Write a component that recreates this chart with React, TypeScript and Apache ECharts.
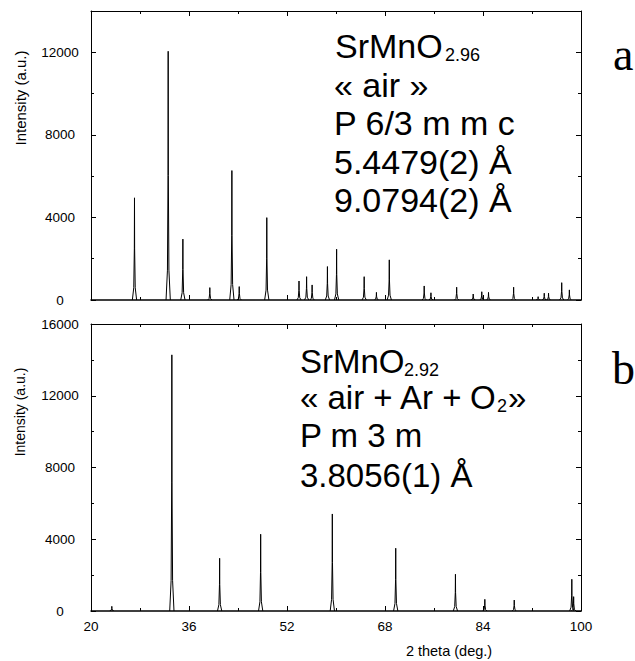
import React, { useEffect, useRef } from "react";
import * as echarts from "echarts";

// Panel a: SrMnO2.96 "air" — peak positions (2θ, deg) and peak intensities (a.u.)
const topTwoTheta = [27.1, 32.6, 35.0, 39.4, 43.0, 44.2, 48.7, 53.96, 55.2, 56.1, 58.6, 60.1, 64.6, 66.6, 68.7, 74.4, 75.5, 79.7, 82.4, 83.8, 84.9, 89.0, 93.0, 94.0, 94.7, 96.85, 98.1];
const topIntensity = [4950, 12050, 2950, 600, 6270, 650, 3990, 920, 1130, 730, 1620, 2460, 1130, 370, 1945, 680, 350, 620, 290, 400, 370, 620, 160, 330, 330, 840, 490];

// Panel b: SrMnO2.92 "air + Ar + O2"
const bottomTwoTheta = [23.4, 33.2, 41.0, 47.7, 59.4, 69.75, 79.5, 84.3, 89.1, 98.5, 98.8];
const bottomIntensity = [260, 14280, 2940, 4280, 5410, 3500, 2050, 650, 610, 1770, 800];

const xTicks = [20, 36, 52, 68, 84, 100];
const topYTicks = [0, 4000, 8000, 12000];
const bottomYTicks = [0, 4000, 8000, 12000, 16000];

const topLines = ["« air »", "P 6/3 m m c", "5.4479(2) Å", "9.0794(2) Å"];
const bottomLines = ["P m 3 m", "3.8056(1) Å"];

const SANS = "'Liberation Sans', Arial, Helvetica, sans-serif";
const SERIF = "'Liberation Serif', 'Times New Roman', serif";

function central(baseline: number, fs: number) {
  return baseline - 0.3465 * fs;
}

export default function App() {
  const ref = useRef<HTMLDivElement>(null);
  useEffect(() => {
    if (!ref.current) return;
    const chart = echarts.init(ref.current, null, { renderer: "svg" });

    const L = 91, W = 490;
    const grids = [
      { left: L, top: 11, width: W, height: 289 },
      { left: L, top: 324, width: W, height: 287 },
    ];

    const xAx = (gi: number, pos: string, labels: boolean) => ({
      type: "value",
      gridIndex: gi,
      position: pos,
      min: xTicks[0],
      max: xTicks[xTicks.length - 1],
      interval: xTicks[1] - xTicks[0],
      axisLine: { show: true, onZero: false, lineStyle: { color: "#000", width: pos === "bottom" ? 1.5 : 1 } },
      axisTick: { show: true, inside: true, length: 5, lineStyle: { color: "#000" } },
      minorTick: { show: true, splitNumber: 2, length: 3, lineStyle: { color: "#000" } },
      splitLine: { show: false },
      axisLabel: {
        show: labels,
        margin: 8,
        color: "#000",
        fontSize: 13.5,
        fontFamily: SANS,
      },
    });

    const yAx = (gi: number, pos: string, ticks: number[], max: number, labels: boolean) => ({
      type: "value",
      gridIndex: gi,
      position: pos,
      min: 0,
      max: max,
      interval: ticks[1] - ticks[0],
      axisLine: { show: true, onZero: false, lineStyle: { color: "#000", width: 1 } },
      axisTick: { show: true, inside: true, length: 5, lineStyle: { color: "#000" } },
      minorTick: { show: true, splitNumber: 2, length: 3, lineStyle: { color: "#000" } },
      splitLine: { show: false },
      axisLabel: {
        show: labels,
        margin: 31,
        align: "center",
        color: "#000",
        fontSize: 13.5,
        fontFamily: SANS,
        formatter: (v: number) => (ticks.indexOf(v) >= 0 ? String(v) : ""),
      },
    });

    const peakSeries = (xi: number, yi: number, xs: number[], ys: number[]) => ({
      type: "custom",
      xAxisIndex: xi,
      yAxisIndex: yi,
      clip: true,
      data: xs.map((x, i) => [x, ys[i]]),
      renderItem: (params: any, api: any) => {
        const p = api.value(0);
        const h = api.value(1);
        const pts = [
          [p - 0.35, 0],
          [p - 0.12, h * 0.12],
          [p - 0.025, h * 0.5],
          [p, h],
          [p + 0.025, h * 0.5],
          [p + 0.12, h * 0.12],
          [p + 0.35, 0],
        ].map((d) => api.coord(d));
        return {
          type: "polyline",
          shape: { points: pts },
          style: { fill: null, stroke: "#000", lineWidth: 1 },
        };
      },
    });

    const bigFs = 34;
    const graphics: any[] = [];
    // Panel a text
    graphics.push({ type: "text", x: 335, y: central(58, bigFs), style: { text: "SrMnO", font: `${bigFs}px ${SANS}`, fill: "#000", verticalAlign: "middle" } });
    graphics.push({ type: "text", x: 445, y: central(61, 18), style: { text: "2.96", font: `18px ${SANS}`, fill: "#000", verticalAlign: "middle" } });
    topLines.forEach((t, i) => {
      graphics.push({ type: "text", x: 334, y: central(96.5 + i * 38.5, bigFs), style: { text: t, font: `${bigFs}px ${SANS}`, fill: "#000", verticalAlign: "middle" } });
    });
    graphics.push({ type: "text", x: 613, y: central(70, 46), style: { text: "a", font: `46px ${SERIF}`, fill: "#000", verticalAlign: "middle" } });

    // Panel b text
    const bFs = 33;
    graphics.push({ type: "text", x: 300, y: central(372.5, bFs), style: { text: "SrMnO", font: `${bFs}px ${SANS}`, fill: "#000", verticalAlign: "middle" } });
    graphics.push({ type: "text", x: 404, y: central(376, 18), style: { text: "2.92", font: `18px ${SANS}`, fill: "#000", verticalAlign: "middle" } });
    graphics.push({ type: "text", x: 300, y: central(408.5, bFs), style: { text: "« air + Ar +", font: `${bFs}px ${SANS}`, fill: "#000", verticalAlign: "middle" } });
    graphics.push({ type: "text", x: 470, y: central(408.5, bFs), style: { text: "O", font: `${bFs}px ${SANS}`, fill: "#000", verticalAlign: "middle" } });
    graphics.push({ type: "text", x: 497, y: central(412, 18), style: { text: "2", font: `18px ${SANS}`, fill: "#000", verticalAlign: "middle" } });
    graphics.push({ type: "text", x: 508, y: central(408.5, bFs), style: { text: "»", font: `${bFs}px ${SANS}`, fill: "#000", verticalAlign: "middle" } });
    bottomLines.forEach((t, i) => {
      graphics.push({ type: "text", x: 300, y: central(447 + i * 40, bFs), style: { text: t, font: `${bFs}px ${SANS}`, fill: "#000", verticalAlign: "middle" } });
    });
    graphics.push({ type: "text", x: 612, y: central(384, 46), style: { text: "b", font: `46px ${SERIF}`, fill: "#000", verticalAlign: "middle" } });

    // axis titles
    graphics.push({ type: "text", x: 20, y: 98, rotation: Math.PI / 2, style: { text: "Intensity (a.u.)", font: `15px ${SANS}`, fill: "#000", align: "center", verticalAlign: "middle" } });
    graphics.push({ type: "text", x: 20, y: 412, rotation: Math.PI / 2, style: { text: "Intensity (a.u.)", font: `14px ${SANS}`, fill: "#000", align: "center", verticalAlign: "middle" } });
    graphics.push({ type: "text", x: 449, y: 651, style: { text: "2 theta (deg.)", font: `14.5px ${SANS}`, fill: "#000", align: "center", verticalAlign: "middle" } });

    chart.setOption({
      animation: false,
      backgroundColor: "#fff",
      grid: grids,
      xAxis: [xAx(0, "bottom", false), xAx(0, "top", false), xAx(1, "bottom", true), xAx(1, "top", false)],
      yAxis: [
        yAx(0, "left", topYTicks, 14000, true),
        yAx(0, "right", topYTicks, 14000, false),
        yAx(1, "left", bottomYTicks, 16000, true),
        yAx(1, "right", bottomYTicks, 16000, false),
      ],
      series: [peakSeries(0, 0, topTwoTheta, topIntensity), peakSeries(2, 2, bottomTwoTheta, bottomIntensity)],
      graphic: graphics,
    });
    return () => chart.dispose();
  }, []);

  return <div ref={ref} style={{ width: 635, height: 661, position: "absolute", left: 0, top: 0, background: "#fff" }} />;
}
